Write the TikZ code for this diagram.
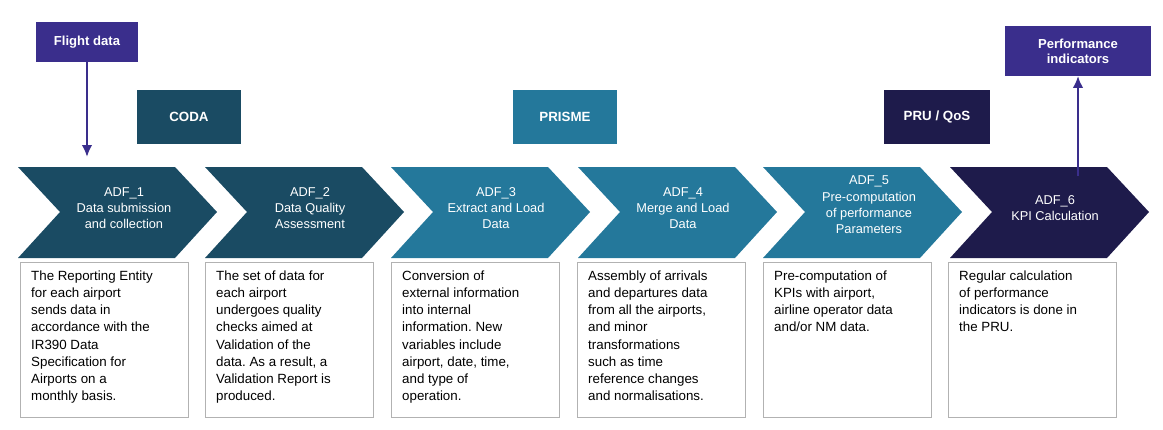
\documentclass[tikz,border=0pt]{standalone}
\usepackage{fontspec}
\setmainfont{Liberation Sans}
\usetikzlibrary{positioning,arrows.meta}
\definecolor{codablue}{HTML}{1A4B63}
\definecolor{prismeblue}{HTML}{24789B}
\definecolor{prunavy}{HTML}{1E1B4B}
\definecolor{flightpurple}{HTML}{3A2E8C}
\frenchspacing
\tikzset{
  stage/.style={font=\fontsize{10}{11.5}\selectfont\bfseries,text=white,inner sep=0pt},
  stagetext/.style={font=\fontsize{9.6}{12.2}\selectfont,text=white,align=center},
  desc/.style={draw=black!30,thick,anchor=north west,inner xsep=8pt,inner ysep=6pt,
    font=\fontsize{10}{12.9}\selectfont},
  tag/.style={draw=none,text=white,align=center,font=\fontsize{9.8}{11}\selectfont\bfseries},
  flow/.style={-{Latex[length=9pt,width=8pt]},flightpurple,line width=1.8pt},
}
\newcommand{\chev}[2]{% x, colour
  \fill[#2] (#1,167) -- ++(157,0) -- ++(42,45) -- ++(-42,46) -- ++(-157,0) -- ++(42,-46) -- cycle;}
\newcommand{\desctext}[1]{\parbox[t][104pt][t]{110pt}{\raggedright #1}}
\begin{document}
\begin{tikzpicture}[x=0.75pt,y=-0.75pt]
\useasboundingbox (0,0) rectangle (1163,429);
% chevrons
\chev{18}{codablue}
\chev{205}{codablue}
\chev{391}{prismeblue}
\chev{578}{prismeblue}
\chev{763}{prismeblue}
\chev{950}{prunavy}
\node[stagetext] (A1) at (124,208) {ADF\_1\\Data submission\\and collection};
\node[stagetext] (A2) at (310,208) {ADF\_2\\Data Quality\\Assessment};
\node[stagetext] (A3) at (496,208) {ADF\_3\\Extract and Load\\Data};
\node[stagetext] (A4) at (683,208) {ADF\_4\\Merge and Load\\Data};
\node[stagetext] (A5) at (869,205) {ADF\_5\\Pre-computation\\of performance\\Parameters};
\node[stagetext] (A6) at (1055,208) {ADF\_6\\KPI Calculation};
% group labels
\node[stage,fill=codablue,minimum width=78pt,minimum height=40pt] (coda) at (189,117) {CODA};
\node[stage,fill=prismeblue,minimum width=78pt,minimum height=40pt] (prisme) at (565,117) {PRISME};
\node[stage,fill=prunavy,minimum width=79pt,minimum height=40pt] (pru) at (937,117) {PRU / QoS};
% inputs / outputs
\node[tag,fill=flightpurple,minimum width=76pt,minimum height=30pt] (flight) at (87,42) {Flight data};
\node[tag,fill=flightpurple,minimum width=109pt,minimum height=37pt] (perf) at (1078,51) {Performance\\indicators};
\coordinate (fin) at (87,157);
\coordinate (pout) at (1078,176);
\draw[flow] (flight) -- (fin);
\draw[flow] (pout) -- (perf);
% descriptions
\node[desc] (d1) at (20,262) {\desctext{The Reporting Entity\\for each airport\\sends data in\\accordance with the\\IR390 Data\\Specification for\\Airports on a\\monthly basis.}};
\node[desc] (d2) at (205,262) {\desctext{The set of data for\\each airport\\undergoes quality\\checks aimed at\\Validation of the\\data. As a result, a\\Validation Report is\\produced.}};
\node[desc] (d3) at (391,262) {\desctext{Conversion of\\external information\\into internal\\information. New\\variables include\\airport, date, time,\\and type of\\operation.}};
\node[desc] (d4) at (577,262) {\desctext{Assembly of arrivals\\and departures data\\from all the airports,\\and minor\\transformations\\such as time\\reference changes\\and normalisations.}};
\node[desc] (d5) at (763,262) {\desctext{Pre-computation of\\KPIs with airport,\\airline operator data\\and/or NM data.}};
\node[desc] (d6) at (948,262) {\desctext{Regular calculation\\of performance\\indicators is done in\\the PRU.}};
\end{tikzpicture}
\end{document}
